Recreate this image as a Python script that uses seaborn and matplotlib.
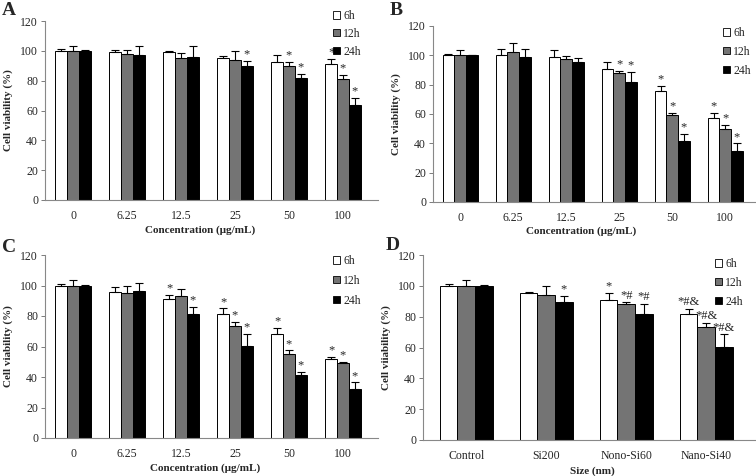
import pandas as pd
import matplotlib.pyplot as plt
import matplotlib.patches as mpatches
import seaborn as sns

# --- data ---
conc = ["0", "6.25", "12.5", "25", "50", "100"]
sizes = ["Control", "Si200", "Nono-Si60", "Nano-Si40"]
times = ["6h", "12h", "24h"]

a_6h = [100, 99, 99, 95.5, 92.5, 91]
a_12h = [100, 98, 95.5, 94, 89.5, 81]
a_24h = [100, 97.5, 96, 89.5, 82, 64]
a_err_6h = [1, 1.5, 1, 1, 4.5, 3.5]
a_err_12h = [3.5, 2.5, 3, 6, 3, 3]
a_err_24h = [0.5, 5.5, 7, 4, 2.5, 4.5]
a_sig_6h = ["", "", "", "", "", "*"]
a_sig_12h = ["", "", "", "", "*", "*"]
a_sig_24h = ["", "", "", "*", "*", "*"]

b_6h = [100, 100.5, 99, 91, 76, 57]
b_12h = [100, 102, 97.5, 88, 59, 49.5]
b_24h = [100, 99, 95.5, 81.5, 41.5, 35]
b_err_6h = [1, 3.5, 4.5, 4.5, 3, 3.5]
b_err_12h = [3.5, 6.5, 2, 1.5, 1.5, 3]
b_err_24h = [0.5, 5.5, 3, 7, 5, 5]
b_sig_6h = ["", "", "", "", "*", "*"]
b_sig_12h = ["", "", "", "*", "*", "*"]
b_sig_24h = ["", "", "", "*", "*", "*"]

c_6h = [100, 95.5, 91, 81.5, 68, 51.5]
c_12h = [100, 95, 93, 73.5, 55, 49]
c_24h = [100, 96.5, 81, 60.5, 41, 32]
c_err_6h = [1, 3.5, 3, 3.5, 4, 1.5]
c_err_12h = [3.5, 4.5, 5, 2.5, 2.5, 1]
c_err_24h = [0.5, 5, 5, 8, 2.5, 4.5]
c_sig_6h = ["", "", "*", "*", "*", "*"]
c_sig_12h = ["", "", "", "*", "*", "*"]
c_sig_24h = ["", "", "*", "*", "*", "*"]

d_6h = [100, 95.5, 91, 81.5]
d_12h = [100, 94, 88, 73.5]
d_24h = [100, 89.5, 81.5, 60.5]
d_err_6h = [1, 0.5, 4.5, 3.5]
d_err_12h = [3.5, 6, 1.5, 2.5]
d_err_24h = [0.5, 4, 7, 8]
d_sig_6h = ["", "", "*", "*#&"]
d_sig_12h = ["", "", "*#", "*#&"]
d_sig_24h = ["", "*", "*#", "*#&"]

colors = ["white", "#747474", "black"]

sns.set_theme(style="white")
plt.rcParams["font.family"] = ["Liberation Serif", "DejaVu Serif"]

W, H = 756, 476


def rect(l, r, t, b):
    return [l / W, (H - b) / H, (r - l) / W, (b - t) / H]


def panel(fig, box, cats, vals, errs, sigs, letter, letter_xy, xlabel, xlabel_x, ylabel,
          xlim, leg_xy, leg_space):
    ax = fig.add_axes(rect(*box))
    rows = []
    for t, v in zip(times, vals):
        for c, y in zip(cats, v):
            rows.append({"cat": c, "time": t, "value": y})
    df = pd.DataFrame(rows)
    sns.barplot(data=df, x="cat", y="value", hue="time", order=cats, hue_order=times,
                palette=colors, edgecolor="black", linewidth=0.7, width=0.66, gap=0,
                errorbar=None, legend=False, ax=ax)
    for cont, err, sig in zip(ax.containers, errs, sigs):
        xs = [b.get_x() + b.get_width() / 2 for b in cont]
        ys = [b.get_height() for b in cont]
        ax.errorbar(xs, ys, yerr=[[0] * len(err), err], fmt="none", ecolor="black",
                    elinewidth=0.8, capsize=3, capthick=0.8)
        for x, y, e, s in zip(xs, ys, err, sig):
            if s:
                ax.text(x, y + e + 0.3, s, ha="center", va="bottom", fontsize=9)
    ax.set_ylim(0, 120)
    ax.set_yticks(range(0, 121, 20))
    ax.set_xlim(*xlim)
    ax.set_xlabel(xlabel, fontsize=8, fontweight="bold")
    ax.xaxis.set_label_coords(xlabel_x, -0.14)
    ax.set_ylabel(ylabel, fontsize=8, fontweight="bold", labelpad=5)
    ax.tick_params(axis="y", which="major", direction="out", length=3, width=0.6,
                   labelsize=8.5, left=True, color="#666666", pad=2)
    ax.tick_params(axis="x", length=0, labelsize=8.5, pad=7)
    for s in ["top", "right"]:
        ax.spines[s].set_visible(False)
    for s in ["left", "bottom"]:
        ax.spines[s].set_color("#888888")
        ax.spines[s].set_linewidth(0.8)
    handles = [mpatches.Patch(facecolor=c, edgecolor="black", linewidth=0.6, label=t)
               for c, t in zip(colors, times)]
    ax.legend(handles=handles, loc="upper left",
              bbox_to_anchor=(leg_xy[0] / W, 1 - (leg_xy[1] - 6) / H),
              bbox_transform=fig.transFigure, frameon=False,
              fontsize=8.5, handlelength=0.6, handleheight=0.6, handletextpad=0.25,
              labelspacing=leg_space, borderpad=0, borderaxespad=0)
    fig.text(letter_xy[0] / W, 1 - letter_xy[1] / H, letter, fontsize=14,
             fontweight="bold", ha="left", va="top")
    return ax


fig = plt.figure(figsize=(7.56, 4.76), dpi=100)

panel(fig, (45, 378, 21, 200), conc,
      [a_6h, a_12h, a_24h], [a_err_6h, a_err_12h, a_err_24h], [a_sig_6h, a_sig_12h, a_sig_24h],
      "A", (2, 2), "Concentration (μg/mL)", 0.465, "Cell viability (%)",
      (-0.52, 5.65), (333, 16), 0.5)
panel(fig, (433, 756, 26, 202), conc,
      [b_6h, b_12h, b_24h], [b_err_6h, b_err_12h, b_err_24h], [b_sig_6h, b_sig_12h, b_sig_24h],
      "B", (390, 2), "Concentration (μg/mL)", 0.46, "Cell viability (%)",
      (-0.51, 5.58), (723, 33), 0.58)
panel(fig, (45, 378, 255, 438), conc,
      [c_6h, c_12h, c_24h], [c_err_6h, c_err_12h, c_err_24h], [c_sig_6h, c_sig_12h, c_sig_24h],
      "C", (2, 239), "Concentration (μg/mL)", 0.48, "Cell viability (%)",
      (-0.52, 5.65), (333, 261), 0.67)
panel(fig, (423, 755, 255, 440), sizes,
      [d_6h, d_12h, d_24h], [d_err_6h, d_err_12h, d_err_24h], [d_sig_6h, d_sig_12h, d_sig_24h],
      "D", (386, 237), "Size (nm)", 0.51, "Cell viiability (%)",
      (-0.54, 3.61), (715, 264), 0.58)

fig.savefig("out.png", dpi=100)
